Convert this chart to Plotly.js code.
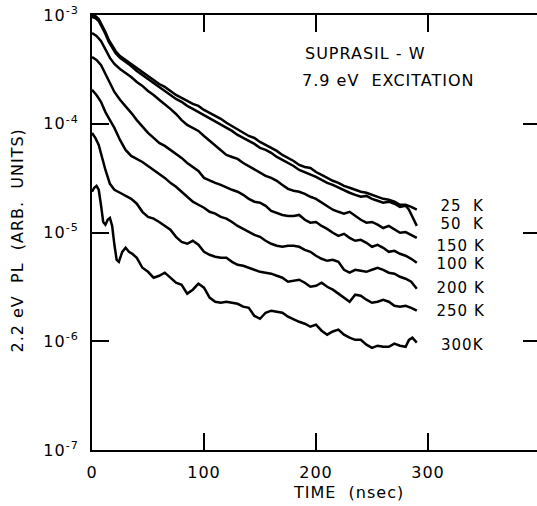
<!DOCTYPE html>
<html>
<head>
<meta charset="utf-8">
<script src="https://cdn.plot.ly/plotly-3.0.1.min.js"></script>
<style>
html,body{margin:0;padding:0;overflow:hidden;background:#fff;}
#chart{width:542px;height:506px;}
#chart svg text{letter-spacing:1px;}
</style>
</head>
<body>
<div id="chart"></div>
<script>
// time axis (nsec)
const tA = [0,3,6,9,12,15,18,21,25,30,35,40,45,50,55,60,65,70,75,80,85,90,95,100,105,110,115,120,125,130,135,140,145,150,155,160,165,170,175,180,185,190,195,200,205,210,215,220,225,230,235,240,245,250,255,260,265,270,275,280,285,290];
const tB = [0,3,6,9,12,15,18,21,25,30,35,40,45,50,55,60,65,70,75,80,85,90,95,100,105,110,115,120,125,130,135,140,145,150,155,160,165,170,175,180,185,190,195,200,205,210,215,220,225,230,235,240,245,250,255,260,265,270,275,280,283,286,290];
const tC = [0,4,8,12,16,20,25,30,35,40,45,50,55,60,65,70,75,80,85,90,95,100,105,110,115,120,125,130,135,140,145,150,155,160,165,170,175,180,185,190,195,200,205,210,215,220,225,230,235,240,245,250,255,260,265,270,275,280,285,290];
const tD = [0,3,6,9,12,16,20,25,30,35,40,45,50,55,60,65,70,75,80,85,90,95,100,105,110,115,120,125,130,135,140,145,150,155,160,165,170,175,180,185,190,195,200,205,210,215,220,225,230,235,240,245,250,255,260,265,270,275,280,285,290];
const tE = [0,2,4,6,8,10,12,14,16,18,20,22,24,27,30,33,36,40,45,50,55,60,65,70,75,80,85,90,95,100,105,110,115,120,125,130,135,140,145,150,155,160,165,170,175,180,185,190,195,200,205,210,215,220,225,230,235,240,245,250,255,260,265,270,275,280,283,286,290];

// PL intensity (arb. units)
const pl25 = [9.79e-4,9.79e-4,9.19e-4,8.09e-4,6.97e-4,5.89e-4,5.19e-4,4.67e-4,
 4.20e-4,3.86e-4,3.55e-4,3.26e-4,2.99e-4,2.75e-4,2.53e-4,2.32e-4,2.18e-4,2.00e-4,
 1.84e-4,1.73e-4,1.62e-4,1.52e-4,1.46e-4,1.34e-4,1.26e-4,1.18e-4,1.11e-4,1.02e-4,
 9.55e-5,8.96e-5,8.24e-5,7.72e-5,7.40e-5,6.80e-5,6.39e-5,6.00e-5,5.63e-5,5.17e-5,
 4.85e-5,4.55e-5,4.18e-5,4.00e-5,3.92e-5,3.60e-5,3.39e-5,3.18e-5,2.99e-5,2.86e-5,
 2.68e-5,2.58e-5,2.47e-5,2.37e-5,2.32e-5,2.22e-5,2.13e-5,2.04e-5,2.00e-5,1.92e-5,
 1.80e-5,1.80e-5,1.72e-5,1.62e-5];
const pl50 = [9.58e-4,9.38e-4,8.81e-4,7.75e-4,6.69e-4,5.64e-4,4.98e-4,4.48e-4,
 4.03e-4,3.70e-4,3.40e-4,3.06e-4,2.81e-4,2.58e-4,2.37e-4,2.18e-4,2.00e-4,1.84e-4,
 1.69e-4,1.59e-4,1.46e-4,1.37e-4,1.28e-4,1.21e-4,1.13e-4,1.06e-4,9.75e-5,9.15e-5,
 8.59e-5,7.89e-5,7.41e-5,6.95e-5,6.53e-5,6.00e-5,5.75e-5,5.40e-5,4.95e-5,4.65e-5,
 4.36e-5,4.09e-5,3.76e-5,3.60e-5,3.39e-5,3.25e-5,3.05e-5,2.86e-5,2.74e-5,2.58e-5,
 2.47e-5,2.32e-5,2.22e-5,2.13e-5,2.17e-5,2.04e-5,1.96e-5,1.88e-5,1.92e-5,1.84e-5,
 1.72e-5,1.76e-5,1.62e-5,1.39e-5,1.15e-5];
const pl150 = [6.84e-4,6.41e-4,5.77e-4,4.77e-4,4.03e-4,3.55e-4,
 3.19e-4,2.93e-4,2.69e-4,2.42e-4,2.23e-4,2.00e-4,1.84e-4,1.66e-4,1.52e-4,1.37e-4,
 1.23e-4,1.08e-4,9.75e-5,9.15e-5,8.59e-5,7.72e-5,6.95e-5,6.39e-5,5.75e-5,5.17e-5,
 4.95e-5,4.75e-5,4.36e-5,4.09e-5,3.84e-5,3.54e-5,3.32e-5,3.18e-5,2.99e-5,2.74e-5,
 2.52e-5,2.42e-5,2.37e-5,2.27e-5,2.13e-5,2.04e-5,1.88e-5,1.76e-5,1.62e-5,1.55e-5,
 1.49e-5,1.55e-5,1.42e-5,1.31e-5,1.23e-5,1.25e-5,1.18e-5,1.10e-5,1.15e-5,1.06e-5,
 9.94e-6,1.01e-5,9.52e-6,8.93e-6];
const pl100 = [4.11e-4,3.86e-4,3.47e-4,2.87e-4,2.32e-4,1.96e-4,
 1.66e-4,1.46e-4,1.26e-4,1.08e-4,9.34e-5,8.24e-5,7.41e-5,6.67e-5,6.26e-5,5.75e-5,
 5.28e-5,4.85e-5,4.36e-5,4.00e-5,3.68e-5,3.18e-5,2.99e-5,2.86e-5,2.74e-5,2.58e-5,
 2.47e-5,2.37e-5,2.22e-5,2.04e-5,1.92e-5,1.88e-5,1.76e-5,1.58e-5,1.52e-5,1.45e-5,
 1.42e-5,1.42e-5,1.45e-5,1.31e-5,1.23e-5,1.25e-5,1.15e-5,1.08e-5,9.94e-6,9.32e-6,
 9.72e-6,8.93e-6,8.39e-6,8.57e-6,8.04e-6,7.39e-6,7.71e-6,7.23e-6,6.64e-6,6.79e-6,
 6.37e-6,6.11e-6,5.73e-6,5.27e-6];
const pl200 = [2.05e-4,1.84e-4,1.59e-4,1.28e-4,1.08e-4,9.15e-5,
 7.10e-5,5.75e-5,5.06e-5,4.75e-5,4.45e-5,4.09e-5,3.76e-5,3.46e-5,3.18e-5,2.86e-5,
 2.63e-5,2.37e-5,2.13e-5,1.92e-5,1.80e-5,1.69e-5,1.55e-5,1.49e-5,1.39e-5,1.34e-5,
 1.25e-5,1.15e-5,1.08e-5,1.01e-5,9.52e-6,9.12e-6,8.39e-6,7.88e-6,7.55e-6,7.39e-6,
 7.55e-6,7.55e-6,7.39e-6,6.93e-6,6.64e-6,6.11e-6,5.73e-6,5.49e-6,5.61e-6,5.37e-6,
 4.54e-6,4.27e-6,4.54e-6,4.44e-6,4.35e-6,4.54e-6,4.74e-6,4.54e-6,4.27e-6,4.18e-6,
 3.92e-6,3.76e-6,3.53e-6,3.04e-6];
const pl250 = [8.24e-5,7.41e-5,6.39e-5,4.85e-5,3.76e-5,2.80e-5,2.47e-5,
 2.32e-5,2.17e-5,2.04e-5,1.84e-5,1.55e-5,1.39e-5,1.34e-5,1.25e-5,1.15e-5,1.06e-5,
 9.12e-6,8.21e-6,7.88e-6,8.39e-6,7.71e-6,6.64e-6,6.24e-6,5.98e-6,5.85e-6,5.85e-6,
 5.37e-6,5.05e-6,4.94e-6,4.74e-6,4.54e-6,4.35e-6,4.27e-6,4.18e-6,4.00e-6,3.84e-6,
 3.53e-6,3.60e-6,3.68e-6,3.45e-6,3.17e-6,3.24e-6,3.45e-6,3.17e-6,2.98e-6,2.74e-6,
 2.52e-6,2.31e-6,2.68e-6,2.62e-6,2.41e-6,2.26e-6,2.31e-6,2.41e-6,2.31e-6,2.12e-6,
 2.08e-6,2.12e-6,2.03e-6,1.91e-6];
const pl300 = [2.37e-5,2.58e-5,2.68e-5,2.47e-5,1.80e-5,1.25e-5,1.18e-5,1.31e-5,1.36e-5,1.15e-5,
 7.71e-6,5.61e-6,5.37e-6,6.64e-6,7.23e-6,6.64e-6,6.37e-6,
 5.85e-6,4.74e-6,4.35e-6,3.84e-6,4.00e-6,4.27e-6,3.84e-6,3.45e-6,3.31e-6,2.74e-6,
 2.98e-6,3.38e-6,3.11e-6,2.52e-6,2.31e-6,2.26e-6,2.31e-6,2.26e-6,2.21e-6,2.08e-6,
 2.03e-6,1.71e-6,1.61e-6,1.83e-6,1.91e-6,1.87e-6,1.83e-6,1.68e-6,1.58e-6,1.51e-6,
 1.45e-6,1.36e-6,1.42e-6,1.25e-6,1.15e-6,1.23e-6,1.28e-6,1.15e-6,1.08e-6,1.03e-6,
 1.03e-6,9.3e-7,8.7e-7,9.1e-7,8.9e-7,8.9e-7,9.5e-7,9.1e-7,8.9e-7,
 1.03e-6,1.08e-6,9.7e-7];

const curveLabels = ['25  K','50  K','150 K','100 K','200 K','250 K','300K'];
const yTickVals = [1e-3,1e-4,1e-5,1e-6,1e-7];
const yTickText = ['10<sup>-3</sup>','10<sup>-4</sup>','10<sup>-5</sup>','10<sup>-6</sup>','10<sup>-7</sup>'];
const xTickVals = [0,100,200,300];
const xTickText = ['0','100','200','300'];

const series = [[tA,pl25],[tB,pl50],[tC,pl150],[tC,pl100],[tC,pl200],[tD,pl250],[tE,pl300]];
const FONT = 'DejaVu Sans, Liberation Sans, Arial, sans-serif';

const traces = series.map((s,i)=>({
  x: s[0], y: s[1], type:'scatter', mode:'lines', name: curveLabels[i],
  line:{color:'#000', width:2.5}, hoverinfo:'skip', showlegend:false
}));

// label positions in paper coords (right aligned)
const labelY = [206,224,246,264,288,311,345];
const annotations = curveLabels.map((txt,i)=>({
  xref:'paper', yref:'paper', x:(485-92)/448, y:(450-labelY[i])/435,
  xanchor:'right', yanchor:'middle', text:txt, showarrow:false,
  font:{family:FONT, size:15, color:'#000'}
}));
annotations.push({xref:'paper',yref:'paper',x:(309-92)/448,y:(450-53)/435,xanchor:'left',yanchor:'middle',
  text:'SUPRASIL - W',showarrow:false,font:{family:FONT,size:16,color:'#000'}});
annotations.push({xref:'paper',yref:'paper',x:(309-92)/448,y:(450-80)/435,xanchor:'left',yanchor:'middle',
  text:'7.9 eV  EXCITATION',showarrow:false,font:{family:FONT,size:16,color:'#000'}});
annotations.push({xref:'paper',yref:'paper',x:(348-92)/448,y:(450-493)/435,xanchor:'center',yanchor:'middle',
  text:'TIME  (nsec)',showarrow:false,font:{family:FONT,size:16,color:'#000'}});
annotations.push({xref:'paper',yref:'paper',x:(17-92)/448,y:(450-241)/435,xanchor:'center',yanchor:'middle',
  textangle:-90,text:'2.2 eV  PL  (ARB.  UNITS)',showarrow:false,font:{family:FONT,size:16,color:'#000'}});

const layout = {
  width:542, height:506,
  margin:{l:92,r:2,t:15,b:56},
  paper_bgcolor:'#fff', plot_bgcolor:'#fff',
  font:{family:FONT, color:'#000', size:16},
  xaxis:{
    range:[0,400], showgrid:false, zeroline:false,
    showline:true, linecolor:'#000', linewidth:2, mirror:'ticks',
    ticks:'inside', ticklen:17, tickwidth:2, tickcolor:'#000',
    tickmode:'array', tickvals:xTickVals, ticktext:xTickText,
    tickfont:{family:FONT,size:16,color:'#000'}, ticklabelstandoff:7
  },
  yaxis:{
    type:'log', range:[-7,-3], showgrid:false, zeroline:false,
    showline:true, linecolor:'#000', linewidth:2, mirror:'ticks',
    ticks:'inside', ticklen:17, tickwidth:2, tickcolor:'#000',
    tickmode:'array', tickvals:yTickVals, ticktext:yTickText,
    tickfont:{family:FONT,size:16,color:'#000'}, ticklabelstandoff:8
  },
  annotations:annotations
};

Plotly.newPlot('chart', traces, layout, {staticPlot:true, displayModeBar:false});
</script>
</body>
</html>
